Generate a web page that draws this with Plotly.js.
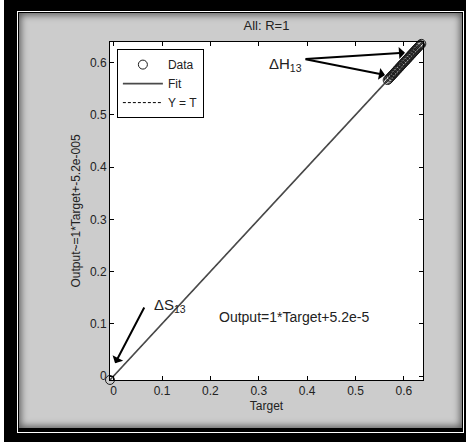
<!DOCTYPE html>
<html>
<head>
<meta charset="utf-8">
<script src="https://cdn.plot.ly/plotly-3.0.1.min.js"></script>
<style>
html,body{margin:0;padding:0;background:#fff;width:469px;height:442px;overflow:hidden;}
#outer{position:absolute;left:4px;top:0;width:462px;height:442px;background:#000;}
#wline{position:absolute;left:17px;top:11px;width:445px;height:420px;border:1px solid #fff;background:#000;}
#panel{position:absolute;left:19px;top:13px;width:443px;height:415px;background:#cccccc;box-shadow:inset 0 0 7px 2px rgba(0,0,0,0.55);}
#chart{position:absolute;left:0;top:0;width:443px;height:415px;}
</style>
</head>
<body>
<div id="outer"></div>
<div id="wline"></div>
<div id="panel"><div id="chart"></div></div>
<script>
// Data
var targets = [-0.0075, 0.5665, 0.5690, 0.5712, 0.5730, 0.5755, 0.5772, 0.5798, 0.5815, 0.5840, 0.5861, 0.5880, 0.5903, 0.5925, 0.5941, 0.5966, 0.5984, 0.6009, 0.6027, 0.6050, 0.6068, 0.6091, 0.6110, 0.6132, 0.6150, 0.6173, 0.6191, 0.6214, 0.6233, 0.6255, 0.6272, 0.6296, 0.6318, 0.6335, 0.6360, 0.6395];
var outputs = [-0.0074, 0.5667, 0.5688, 0.5714, 0.5729, 0.5757, 0.5770, 0.5800, 0.5814, 0.5842, 0.5860, 0.5882, 0.5901, 0.5927, 0.5940, 0.5968, 0.5983, 0.6011, 0.6026, 0.6052, 0.6067, 0.6093, 0.6109, 0.6134, 0.6149, 0.6175, 0.6190, 0.6216, 0.6232, 0.6257, 0.6271, 0.6298, 0.6317, 0.6337, 0.6359, 0.6396];
var fitX = [-0.0075, 0.6395];
var fitY = [-0.0074, 0.6396];
var identX = [-0.0075, 0.6395];
var identY = [-0.0075, 0.6395];
var tickVals = [0, 0.1, 0.2, 0.3, 0.4, 0.5, 0.6];
var tickLabels = ['0', '0.1', '0.2', '0.3', '0.4', '0.5', '0.6'];
var axisRange = [-0.0075, 0.6395];

var font = 'Arial, "Liberation Sans", sans-serif';

var traces = [
  {x: identX, y: identY, mode: 'lines', name: 'Y = T', line: {color: '#000', width: 1, dash: '3px,2px'}, legendrank: 3, hoverinfo: 'skip'},
  {x: fitX, y: fitY, mode: 'lines', name: 'Fit', line: {color: '#4a4a4a', width: 1.6}, legendrank: 2, hoverinfo: 'skip'},
  {x: targets, y: outputs, mode: 'markers', name: 'Data', cliponaxis: false,
   marker: {symbol: 'circle-open', size: 9, color: '#1a1a1a', line: {width: 1, color: '#1a1a1a'}}, legendrank: 1}
];

var axisCommon = {
  range: axisRange, tickvals: tickVals, ticktext: tickLabels,
  ticks: 'inside', ticklen: 4, tickcolor: '#000', showline: true, linecolor: '#000', linewidth: 1,
  mirror: 'allticks', showgrid: false, zeroline: false,
  tickfont: {family: font, size: 12, color: '#222'}
};

var layout = {
  width: 443, height: 415,
  margin: {l: 91, r: 39, t: 29, b: 48},
  paper_bgcolor: 'rgba(0,0,0,0)', plot_bgcolor: '#fff',
  showlegend: true,
  font: {family: font, size: 12, color: '#222'},
  title: {text: 'All: R=1', font: {family: font, size: 13, color: '#222'}, x: 0.5, xref: 'paper', xanchor: 'center', y: 0.971, yref: 'container', yanchor: 'middle'},
  xaxis: Object.assign({}, axisCommon, {title: {text: 'Target', font: {family: font, size: 12, color: '#222'}, standoff: 4}}),
  yaxis: Object.assign({}, axisCommon, {title: {text: 'Output~=1*Target+-5.2e-005', font: {family: font, size: 12, color: '#222'}, standoff: 6}}),
  legend: {x: 0.022, y: 0.979, xanchor: 'left', yanchor: 'top', bgcolor: '#fff', bordercolor: '#000', borderwidth: 1,
           font: {family: font, size: 12, color: '#222'}, itemwidth: 40, tracegroupgap: 0},
  annotations: [
    {x: 0.6023, y: 0.6190, ax: 0.3936, ay: 0.607, xref: 'x', yref: 'y', axref: 'x', ayref: 'y', text: '', showarrow: true, arrowhead: 1, arrowsize: 1, arrowwidth: 2, arrowcolor: '#000', standoff: 0, startstandoff: 0},
    {x: 0.561, y: 0.5764, ax: 0.3936, ay: 0.607, xref: 'x', yref: 'y', axref: 'x', ayref: 'y', text: '', showarrow: true, arrowhead: 1, arrowsize: 1, arrowwidth: 2, arrowcolor: '#000', standoff: 0, startstandoff: 0},
    {x: 0.003, y: 0.0245, ax: 0.0649, ay: 0.134, xref: 'x', yref: 'y', axref: 'x', ayref: 'y', text: '', showarrow: true, arrowhead: 1, arrowsize: 1, arrowwidth: 2, arrowcolor: '#000', standoff: 0, startstandoff: 0},
    {x: 0.318, y: 0.597, xref: 'x', yref: 'y', xanchor: 'left', yanchor: 'middle', showarrow: false, text: 'ΔH<sub>13</sub>', font: {family: font, size: 15, color: '#222'}},
    {x: 0.0794, y: 0.136, xref: 'x', yref: 'y', xanchor: 'left', yanchor: 'middle', showarrow: false, text: 'ΔS<sub>13</sub>', font: {family: font, size: 15, color: '#222'}},
    {x: 0.373, y: 0.113, xref: 'x', yref: 'y', xanchor: 'center', yanchor: 'middle', showarrow: false, text: 'Output=1*Target+5.2e-5', font: {family: font, size: 14, color: '#222'}}
  ]
};

Plotly.newPlot('chart', traces, layout, {displayModeBar: false, staticPlot: true});
</script>
</body>
</html>
